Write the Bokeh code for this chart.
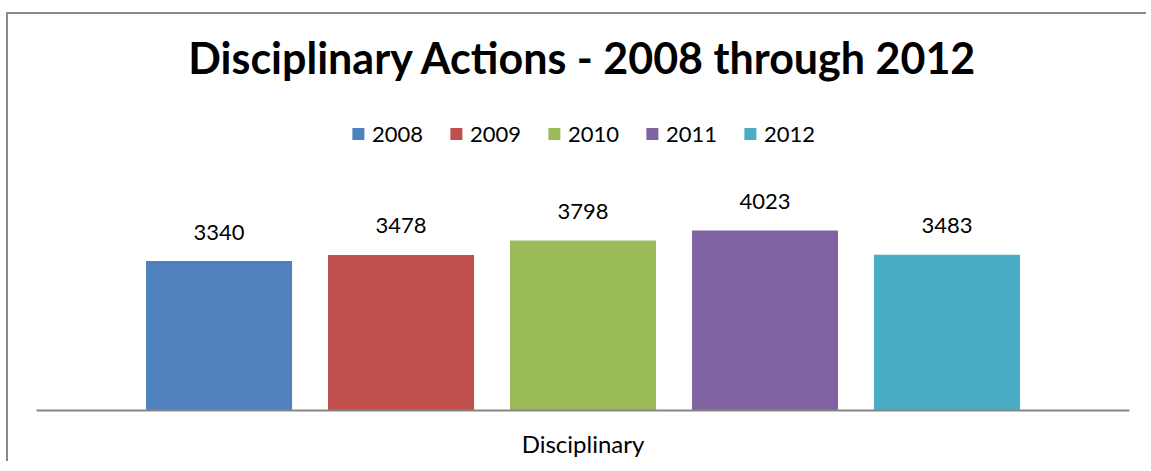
from bokeh.plotting import figure
from bokeh.models import ColumnDataSource, Range1d, FactorRange, Legend, LegendItem
from bokeh.transform import dodge
from bokeh.core.properties import value
from bokeh.embed import file_html
from bokeh.resources import INLINE

# ---- data ----
category = ["Disciplinary"]
years = ["2008", "2009", "2010", "2011", "2012"]
counts = [3340, 3478, 3798, 4023, 3483]
colors = ["#4F81BD", "#C0504D", "#9BBB59", "#8064A2", "#4BACC6"]
title_text = "Disciplinary Actions - 2008 through 2012"

# ---- layout constants ----
Y_END = 8851
TITLE_Y = 7890
BAR_W = 0.1336
STEP = 0.1665
FONT = "Lato"

p = figure(width=1143, height=449,
           x_range=FactorRange(factors=category),
           y_range=Range1d(0, Y_END),
           y_axis_location=None,
           output_backend="svg", toolbar_location=None,
           min_border_left=28, min_border_right=22,
           min_border_top=0, min_border_bottom=53)
p.styles = {"margin-top": "14px", "margin-left": "8px", "margin-bottom": "-60px",
            "box-shadow": "-2px -2px 0 0 #8a8a8a", "background-color": "white",
            "clip-path": "inset(-2px 5px 0px -2px)"}
p.outline_line_color = None
p.xgrid.grid_line_color = None
p.ygrid.grid_line_color = None
p.background_fill_color = "white"
p.border_fill_color = "white"

ax = p.xaxis[0]
ax.axis_line_color = "#868686"
ax.axis_line_width = 2
ax.major_tick_line_color = None
ax.minor_tick_line_color = None
ax.major_label_text_font = FONT
ax.major_label_text_font_size = "24px"
ax.major_label_text_color = "#000000"
ax.major_label_standoff = 12

items = []
n = len(years)
for i, (yr, c, col) in enumerate(zip(years, counts, colors)):
    off = (i - (n - 1) / 2) * STEP
    src = ColumnDataSource(dict(cat=category, val=[c], lab=[str(c)]))
    r = p.vbar(x=dodge("cat", off, range=p.x_range), top="val", width=BAR_W,
               source=src, fill_color=col, line_color=None)
    p.text(x=dodge("cat", off, range=p.x_range), y="val", text="lab", source=src,
           text_align="center", text_baseline="alphabetic", y_offset=-29,
           text_font=value(FONT), text_font_size="22px", text_color="#000000")
    items.append(LegendItem(label=yr, renderers=[r]))

tsrc = ColumnDataSource(dict(cat=category, t=[title_text]))
p.text(x="cat", y=value(TITLE_Y), text="t", source=tsrc,
       text_align="center", text_baseline="alphabetic",
       text_font=value(FONT), text_font_style="bold",
       text_font_size="43px", text_color="#000000")

legend = Legend(items=items, orientation="horizontal", location="top_center",
                glyph_width=15, glyph_height=15, label_standoff=7, spacing=25,
                label_text_font=FONT, label_text_font_size="22px",
                label_text_color="#000000",
                padding=0, margin=106, border_line_color=None,
                background_fill_alpha=0)
p.add_layout(legend)

open("out.html", "w").write(file_html(p, INLINE))
